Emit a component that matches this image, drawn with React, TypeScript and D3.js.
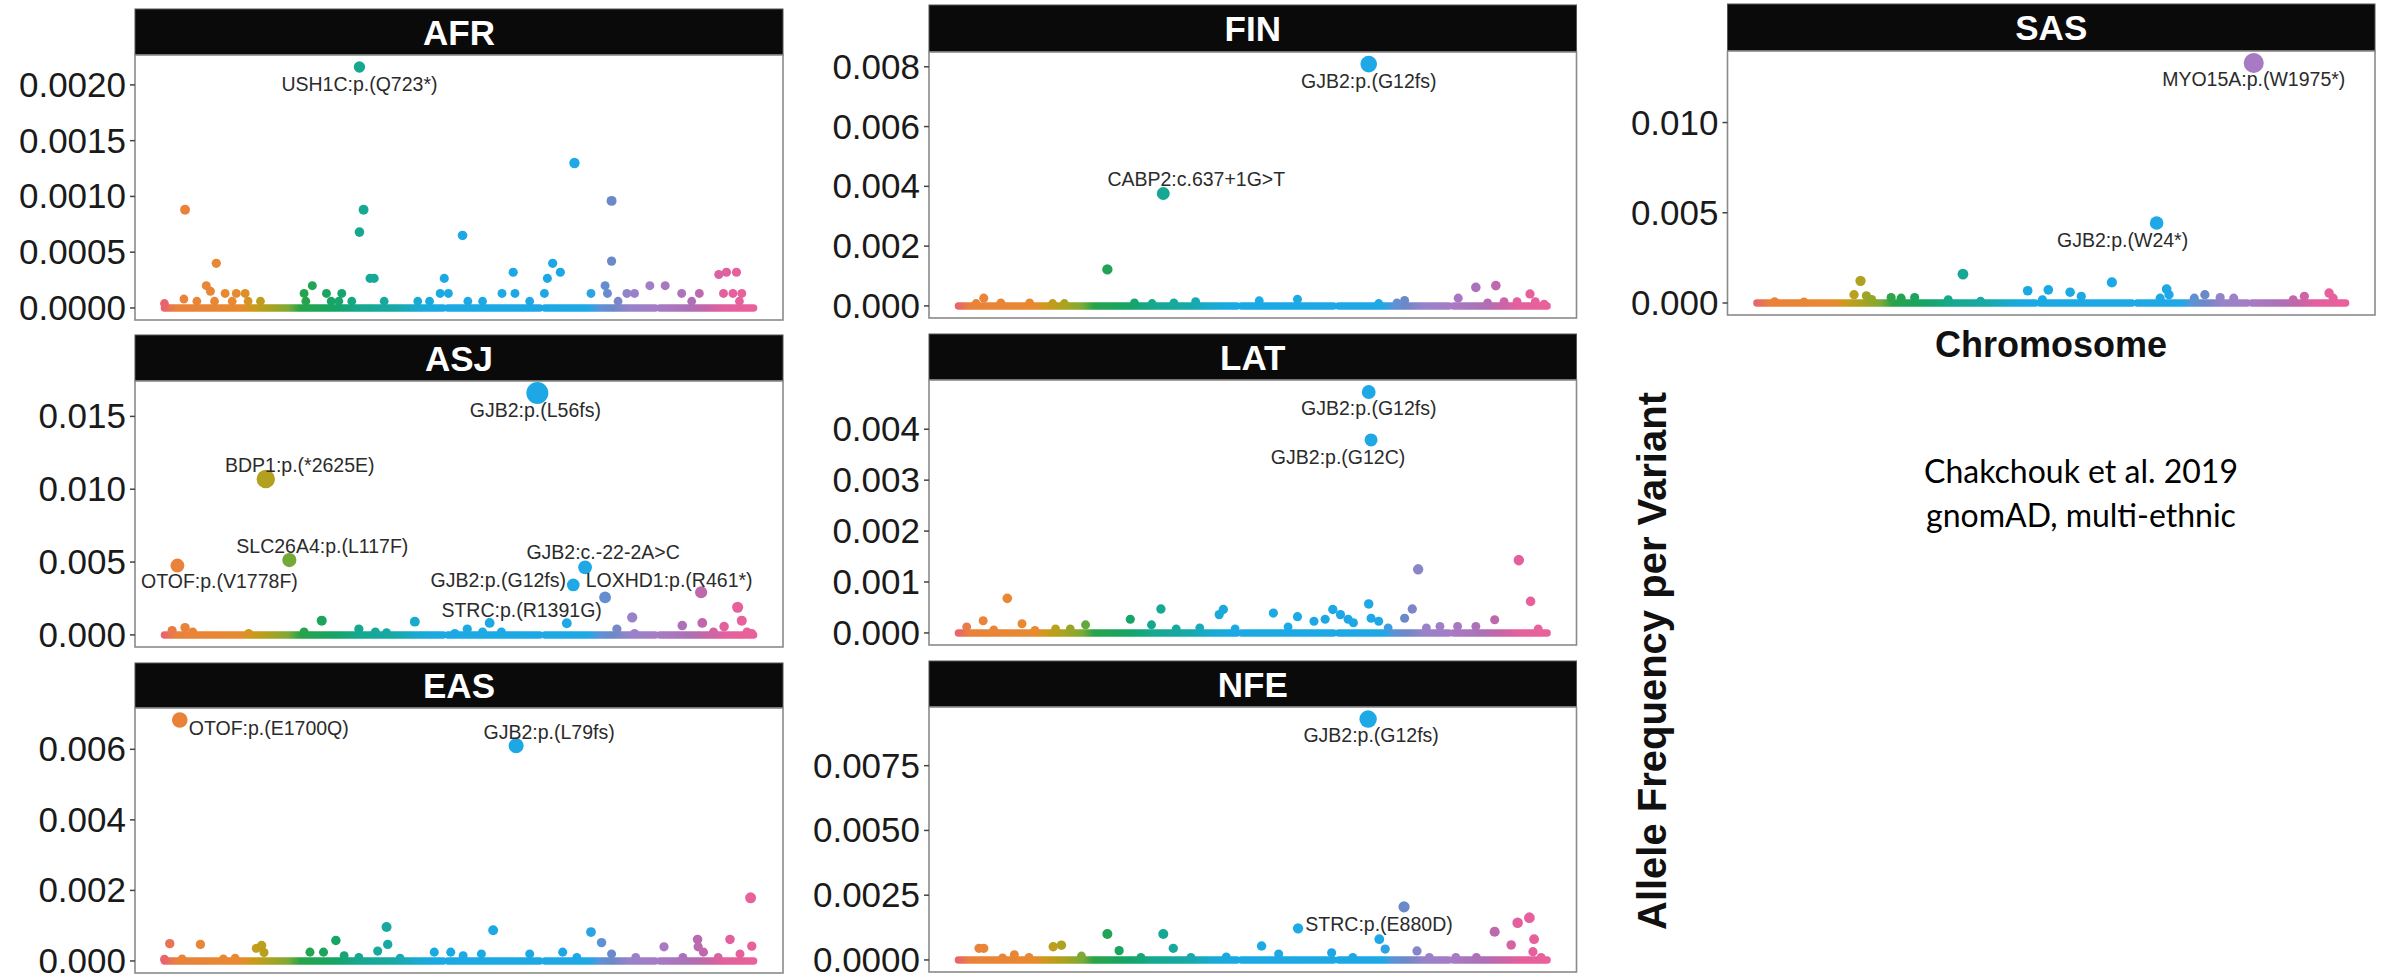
import React from "react";
import * as d3 from "d3";

// ---------- DATA ----------
// x = relative genome position of the variant (0..100), v = allele frequency
const afrPoints: [number, number][] = [
  [0, 0.00004], [3.3, 0.00008], [3.5, 0.00088], [5.5, 0.00006], [7.1, 0.0002], [7.8, 0.00015], [8.8, 0.0004],
  [8.5, 0.00006], [10.3, 0.00013], [11.5, 0.00006], [12.2, 0.00013], [13.7, 0.00013], [14.2, 0.00006], [16.3, 0.00006],
  [23.7, 0.00013], [24.0, 0.00006], [25.1, 0.0002], [27.5, 0.00013], [28.3, 0.00006], [30.1, 0.00013], [29.6, 0.00006],
  [31.8, 0.00006], [33.8, 0.00088], [33.1, 0.00068], [34.9, 0.000265], [35.6, 0.000265], [37.3, 0.00006], [43.0, 0.00006],
  [45.0, 0.00006], [46.8, 0.00013], [47.5, 0.000265], [48.2, 0.00013], [50.6, 0.00065], [51.5, 0.00006], [54.0, 0.00006],
  [57.3, 0.00013], [59.2, 0.00032], [59.5, 0.00013], [62.0, 0.00006], [64.5, 0.00013], [65.0, 0.000265], [65.9, 0.0004],
  [67.2, 0.00032], [69.6, 0.0013], [72.4, 0.00013], [74.8, 0.0002], [75.2, 0.00013], [75.9, 0.00096], [75.9, 0.00042],
  [77.0, 0.00006], [78.5, 0.00013], [79.8, 0.00013], [82.4, 0.0002], [85.0, 0.0002], [87.8, 0.00013], [89.5, 0.00006],
  [90.8, 0.00013], [94.1, 0.0003], [95.4, 0.00032], [97.1, 0.00032], [94.9, 0.00013], [96.5, 0.00013], [98.0, 0.00013],
  [97.6, 0.00006],
];
const afrLabeled: [number, number, string][] = [[33.1, 0.00216, "USH1C:p.(Q723*)"]];

const finPoints: [number, number][] = [
  [4.3, 0.00026], [3.0, 0.00008], [7.2, 0.0001], [12.1, 0.0001], [16.0, 0.00008], [18.0, 0.00008], [25.3, 0.00122],
  [29.9, 0.0001], [32.9, 0.00008], [36.6, 0.0001], [40.3, 0.00014], [51.1, 0.00017], [57.6, 0.00022], [71.4, 0.00008],
  [75.8, 0.00018], [74.5, 0.0001], [84.9, 0.00026], [87.9, 0.00062], [91.3, 0.00068], [89.9, 0.0001], [92.7, 0.00014],
  [94.9, 0.00014], [97.1, 0.0004], [98.0, 0.00014], [99.5, 0.00006],
];
const finLabeled: [number, number, string][] = [
  [69.7, 0.00809, "GJB2:p.(G12fs)"],
  [34.8, 0.00376, "CABP2:c.637+1G>T"],
];

const sasPoints: [number, number][] = [
  [3.0, 0.00008], [8.0, 0.00006], [17.6, 0.00123], [16.5, 0.00046], [18.6, 0.0004], [19.5, 0.0002], [22.8, 0.0003],
  [24.5, 0.00027], [26.8, 0.0003], [32.5, 0.00018], [35.0, 0.0016], [38.0, 0.0001], [46.0, 0.00068], [49.5, 0.00073],
  [48.5, 0.00018], [53.2, 0.0006], [55.1, 0.00037], [60.3, 0.00114], [68.5, 0.00027], [69.6, 0.00077], [70.0, 0.00046],
  [74.3, 0.00027], [76.1, 0.00046], [78.7, 0.0003], [81.0, 0.00027], [91.1, 0.00018], [93.0, 0.00037], [97.2, 0.00055],
  [97.9, 0.00027],
];
const sasLabeled: [number, number, string][] = [
  [84.4, 0.0133, "MYO15A:p.(W1975*)"],
  [67.9, 0.00443, "GJB2:p.(W24*)"],
];

const asjPoints: [number, number][] = [
  [1.3, 0.0003], [3.5, 0.0005], [4.8, 0.0002], [14.3, 0.0001], [23.7, 0.0002], [26.7, 0.00098], [33.0, 0.0004],
  [35.8, 0.0002], [37.7, 0.00015], [42.5, 0.00091], [49.3, 0.0001], [51.4, 0.0004], [54.0, 0.0002], [57.2, 0.0002],
  [68.3, 0.0008], [74.8, 0.00258], [76.8, 0.0004], [79.4, 0.00121], [79.8, 0.0001], [87.9, 0.00064], [91.3, 0.00082],
  [93.2, 0.0002], [95.0, 0.00057], [97.3, 0.0019], [98.0, 0.00098], [98.9, 0.0002], [99.7, 0.0001],
];
const asjLabeled: [number, number, string][] = [
  [63.3, 0.0166, "GJB2:p.(L56fs)"],
  [17.2, 0.0107, "BDP1:p.(*2625E)"],
  [2.2, 0.00476, "OTOF:p.(V1778F)"],
  [21.2, 0.00514, "SLC26A4:p.(L117F)"],
  [71.4, 0.00464, "GJB2:c.-22-2A>C"],
  [69.4, 0.00343, "GJB2:p.(G12fs)"],
  [91.1, 0.00293, "LOXHD1:p.(R461*)"],
  [55.2, 0.00082, "STRC:p.(R1391G)"],
];

const latPoints: [number, number][] = [
  [1.4, 0.00012], [4.2, 0.00024], [6.0, 0.00006], [8.3, 0.00068], [10.8, 0.00018], [13.0, 0.00005], [16.5, 0.00008],
  [19.0, 0.00008], [21.6, 0.00016], [29.2, 0.00027], [32.8, 0.00016], [34.4, 0.00047], [37.0, 0.00008], [41.0, 0.0001],
  [44.3, 0.00036], [45.0, 0.00046], [47.0, 0.00008], [53.5, 0.00039], [56.0, 0.00012], [57.6, 0.00032], [60.4, 0.00023],
  [62.3, 0.00027], [63.6, 0.00046], [64.9, 0.00036], [66.2, 0.00027], [67.1, 0.0002], [69.7, 0.00057], [70.1, 0.00029],
  [71.4, 0.00023], [73.0, 0.0001], [75.8, 0.00029], [77.1, 0.00047], [78.1, 0.00125], [79.5, 0.0001], [81.8, 0.00013],
  [84.8, 0.00013], [87.9, 0.00013], [91.1, 0.00026], [95.2, 0.00143], [97.2, 0.00062], [98.5, 0.00008],
];
const latLabeled: [number, number, string][] = [
  [69.7, 0.00473, "GJB2:p.(G12fs)"],
  [70.1, 0.00379, "GJB2:p.(G12C)"],
];

const easPoints: [number, number][] = [
  [0, 0.00005], [0.9, 0.00049], [6.1, 0.00047], [3.0, 0.00006], [10.0, 0.00006], [12.0, 0.00008], [15.6, 0.00036],
  [16.5, 0.00044], [16.9, 0.00024], [24.7, 0.00025], [27.0, 0.00025], [29.1, 0.00058], [30.5, 0.00015], [33.0, 0.0001],
  [36.2, 0.00028], [37.7, 0.00096], [37.9, 0.00047], [40.0, 0.00008], [45.8, 0.00025], [48.6, 0.00025], [50.7, 0.00015],
  [53.8, 0.0002], [55.8, 0.00087], [62.0, 0.0002], [67.6, 0.00025], [70.0, 0.0001], [72.4, 0.00082], [74.2, 0.00052],
  [75.9, 0.0002], [80.0, 0.0001], [84.8, 0.0004], [88.0, 0.0001], [90.5, 0.00061], [90.6, 0.0004], [91.5, 0.00025],
  [94.0, 0.0001], [96.0, 0.00061], [97.7, 0.0002], [99.5, 0.00179], [99.7, 0.00042],
];
const easLabeled: [number, number, string][] = [
  [2.6, 0.00683, "OTOF:p.(E1700Q)"],
  [59.7, 0.0061, "GJB2:p.(L79fs)"],
];

const nfePoints: [number, number][] = [
  [3.5, 0.00045], [4.3, 0.00045], [7.5, 0.00008], [9.5, 0.0002], [12.0, 0.0001], [16.1, 0.00051], [17.5, 0.00057],
  [20.9, 0.00015], [25.3, 0.001], [27.3, 0.00036], [31.0, 0.0001], [34.8, 0.001], [36.5, 0.00045], [39.5, 0.0001],
  [45.5, 0.00012], [51.5, 0.00054], [54.4, 0.00023], [57.7, 0.00122], [63.4, 0.00028], [67.0, 0.0001], [71.5, 0.0008],
  [72.5, 0.00042], [77.9, 0.00035], [80.0, 0.0001], [84.5, 0.0001], [88.0, 0.0001], [91.1, 0.00109], [93.9, 0.00058],
  [95.0, 0.00144], [97.0, 0.00163], [97.8, 0.0008], [97.6, 0.00032], [99.0, 0.0001],
];
const nfeLabeled: [number, number, string][] = [
  [69.6, 0.0093, "GJB2:p.(G12fs)"],
  [75.7, 0.00205, "STRC:p.(E880D)"],
];

// tick values per panel
const afrTicks = [0, 0.0005, 0.001, 0.0015, 0.002];
const finTicks = [0, 0.002, 0.004, 0.006, 0.008];
const sasTicks = [0, 0.005, 0.01];
const asjTicks = [0, 0.005, 0.01, 0.015];
const latTicks = [0, 0.001, 0.002, 0.003, 0.004];
const easTicks = [0, 0.002, 0.004, 0.006];
const nfeTicks = [0, 0.0025, 0.005, 0.0075];

// zero-frequency variants form a continuous band along each chromosome block
const baselineSegments: [number, number][] = [[0, 47.3], [48.1, 63.7], [64.6, 83.3], [84.1, 100]];

// colour along the genome (hue per position)
const colorStops: [number, string][] = [
  [0, "#E8666B"], [2, "#E9823A"], [13, "#E88A30"], [15, "#CC9A1A"], [18, "#A9A321"], [21, "#7DAA35"],
  [23, "#28A44A"], [29, "#16A466"], [33, "#16A88E"], [39, "#17A9A6"], [43, "#19AAD2"], [46, "#1BA9E3"],
  [72, "#1EA8E6"], [74, "#5E92D6"], [76, "#6C88C8"], [79, "#9783C9"], [84, "#A77BC4"], [89, "#AC70B6"],
  [92, "#C566A8"], [95, "#E3609E"], [100, "#E9619A"],
];

// ---------- LAYOUT ----------
type Panel = {
  key: string; pts: [number, number][]; labeled: [number, number, string][]; ticks: number[]; digits: number;
  x0: number; x1: number; stripTop: number; top: number; bottom: number; offsets: [number, number][];
};

const panels: Panel[] = [
  { key: "AFR", pts: afrPoints, labeled: afrLabeled, ticks: afrTicks, digits: 4, x0: 135, x1: 783, stripTop: 9, top: 55, bottom: 320, offsets: [[0, 17]] },
  { key: "FIN", pts: finPoints, labeled: finLabeled, ticks: finTicks, digits: 3, x0: 929, x1: 1576.5, stripTop: 5, top: 52, bottom: 318, offsets: [[0, 17], [33, -14]] },
  { key: "SAS", pts: sasPoints, labeled: sasLabeled, ticks: sasTicks, digits: 3, x0: 1727.5, x1: 2375, stripTop: 4, top: 51, bottom: 315, offsets: [[0, 16], [-34, 17]] },
  { key: "ASJ", pts: asjPoints, labeled: asjLabeled, ticks: asjTicks, digits: 3, x0: 135, x1: 783, stripTop: 335, top: 381, bottom: 647, offsets: [[-2, 17], [34, -14], [42, 16], [33, -14], [18, -15], [-75, -5], [-32, -12], [32, -13]] },
  { key: "LAT", pts: latPoints, labeled: latLabeled, ticks: latTicks, digits: 3, x0: 929, x1: 1576.5, stripTop: 334, top: 380, bottom: 645, offsets: [[0, 16], [-33, 17]] },
  { key: "EAS", pts: easPoints, labeled: easLabeled, ticks: easTicks, digits: 3, x0: 135, x1: 783, stripTop: 663, top: 708, bottom: 973, offsets: [[89, 8], [33, -14]] },
  { key: "NFE", pts: nfePoints, labeled: nfeLabeled, ticks: nfeTicks, digits: 4, x0: 929, x1: 1576.5, stripTop: 661, top: 707, bottom: 972, offsets: [[3, 16], [-25, 17]] },
];

const colorScale = d3
  .scaleLinear<string>()
  .domain(colorStops.map((s) => s[0]))
  .range(colorStops.map((s) => s[1]))
  .interpolate(d3.interpolateRgb);

const areaScale = d3.scaleLinear().domain([0, 0.0166]).range([19, 121]);
const radius = (v: number) => Math.sqrt(areaScale(v));

const FONT = "'Liberation Sans', Arial, Helvetica, sans-serif";

function PanelView({ p }: { p: Panel }) {
  const x = d3.scaleLinear().domain([-5, 105]).range([p.x0, p.x1]);
  const allV = [...p.pts.map((d) => d[1]), ...p.labeled.map((d) => d[1]), 0];
  const [mn, mx] = d3.extent(allV) as [number, number];
  const pad = (mx - mn) * 0.05;
  const y = d3.scaleLinear().domain([mn - pad, mx + pad]).range([p.bottom, p.top]);
  const gradId = `grad-${p.key}`;
  const fmt = d3.format(`.${p.digits}f`);
  return (
    <g>
      <defs>
        <linearGradient id={gradId} gradientUnits="userSpaceOnUse" x1={x(0)} x2={x(100)} y1={0} y2={0}>
          {colorStops.map((s, i) => (
            <stop key={i} offset={`${s[0]}%`} stopColor={s[1]} />
          ))}
        </linearGradient>
      </defs>
      {/* strip */}
      <rect x={p.x0} y={p.stripTop} width={p.x1 - p.x0} height={p.top - p.stripTop} fill="#0a0a0a" stroke="#555" strokeWidth={1} />
      <text x={(p.x0 + p.x1) / 2} y={(p.stripTop + p.top) / 2 + 12.5} textAnchor="middle" fill="#fff" fontFamily={FONT} fontWeight="bold" fontSize={35}>
        {p.key}
      </text>
      {/* panel frame */}
      <rect x={p.x0} y={p.top} width={p.x1 - p.x0} height={p.bottom - p.top} fill="#fff" stroke="#8a8a8a" strokeWidth={1.6} />
      {/* y axis */}
      {p.ticks.map((t, i) => (
        <g key={i}>
          <line x1={p.x0 - 5} x2={p.x0} y1={y(t)} y2={y(t)} stroke="#444" strokeWidth={1.5} />
          <text x={p.x0 - 9} y={y(t) + 12} textAnchor="end" fontFamily={FONT} fontSize={35} fill="#1a1a1a">
            {fmt(t)}
          </text>
        </g>
      ))}
      {/* baseline band of zero-frequency variants */}
      {baselineSegments.map((s, i) => (
        <line key={i} x1={x(s[0])} x2={x(s[1])} y1={y(0)} y2={y(0)} stroke={`url(#${gradId})`} strokeWidth={7.5} strokeLinecap="round" />
      ))}
      {p.pts.map((d, i) => (
        <circle key={i} cx={x(d[0])} cy={y(d[1])} r={radius(d[1])} fill={colorScale(d[0])} />
      ))}
      {p.labeled.map((d, i) => (
        <circle key={`l${i}`} cx={x(d[0])} cy={y(d[1])} r={radius(d[1])} fill={colorScale(d[0])} />
      ))}
      {p.labeled.map((d, i) => (
        <text key={`t${i}`} x={x(d[0]) + p.offsets[i][0]} y={y(d[1]) + p.offsets[i][1]} dy="0.35em" textAnchor="middle" fontFamily={FONT} fontSize={19.5} fill="#2b2b2b">
          {d[2]}
        </text>
      ))}
    </g>
  );
}

export default function App() {
  return (
    <svg width={2385} height={976} style={{ position: "absolute", left: 0, top: 0, background: "#fff" }}>
      <rect x={0} y={0} width={2385} height={976} fill="#fff" />
      {panels.map((p) => (
        <PanelView key={p.key} p={p} />
      ))}
      <text x={2051} y={357} textAnchor="middle" fontFamily={FONT} fontWeight="bold" fontSize={36} fill="#111">
        Chromosome
      </text>
      <text transform="translate(1666,661) rotate(-90)" textAnchor="middle" fontFamily={FONT} fontWeight="bold" fontSize={40} fill="#111">
        Allele Frequency per Variant
      </text>
      <text x={2081} y={483} textAnchor="middle" fontFamily="Lato, 'Open Sans', sans-serif" fontSize={32} fill="#000">
        Chakchouk et al. 2019
      </text>
      <text x={2081} y={527} textAnchor="middle" fontFamily="Lato, 'Open Sans', sans-serif" fontSize={32} fill="#000">
        gnomAD, multi-ethnic
      </text>
    </svg>
  );
}
